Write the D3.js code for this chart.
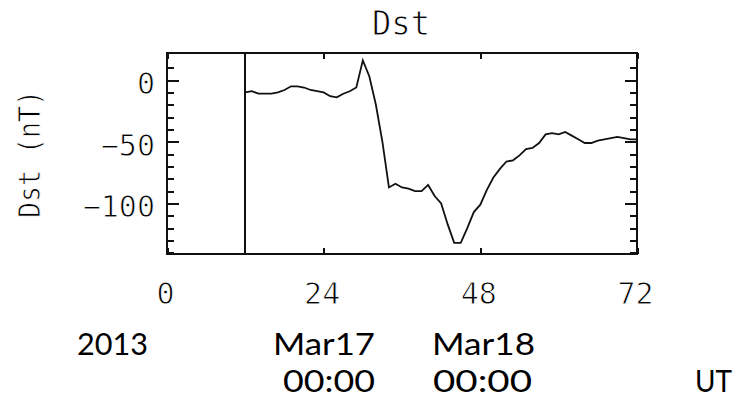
<!DOCTYPE html>
<html>
<head>
<meta charset="utf-8">
<script src="https://cdn.jsdelivr.net/npm/d3@7/dist/d3.min.js"></script>
<style>
  html, body { margin: 0; padding: 0; background: #fff; }
  svg { display: block; }
  /* thin stroke-font look: white outline trims the glyph edges */
  .mono { font-family: "DejaVu Sans Mono", monospace; fill: #000; stroke: #fff; stroke-width: 0.9px; paint-order: normal; }
  .cap { font-family: Lato, "Open Sans", sans-serif; fill: #000; }
</style>
</head>
<body>
<svg id="chart" width="740" height="405"></svg>
<script>
// Hourly Dst index (nT), starting at hour 12 of the plot window
const startHour = 12;
const dstValues = [
  -10, -9, -11, -11, -11, -10, -8, -5, -5, -6,
  -8, -9, -10, -13, -14, -11, -9, -6, 16, 3,
  -20, -50, -87, -84, -87, -88, -90, -90, -85, -94,
  -100, -117, -132, -132, -120, -107, -101, -89, -79, -72,
  -66, -65, -61, -56, -55, -51, -44, -43, -44, -42,
  -45, -48, -51, -51, -49, -48, -47, -46, -47, -48,
  -48
];
const xTicks = [0, 24, 48, 72];
const yMajorTicks = [0, -50, -100];
const yMinorTicks = [10, -10, -20, -30, -40, -60, -70, -80, -90, -110, -120, -130, -140];
const dateLabels = [
  { text: "2013", row: 0, x0: 77, x1: 148 },
  { text: "Mar17", row: 0, x0: 273, x1: 375 },
  { text: "Mar18", row: 0, x0: 432, x1: 535 },
  { text: "00:00", row: 1, x0: 283, x1: 375 },
  { text: "00:00", row: 1, x0: 433, x1: 532 },
  { text: "UT", row: 1, x0: 695, x1: 732 }
];

const svg = d3.select("#chart");
const box = { left: 167, right: 637, top: 53, bottom: 254 };

const x = d3.scaleLinear().domain([0, 72]).range([box.left, box.right]);
const y = d3.scaleLinear().domain([-141, 22]).range([box.bottom, box.top]);

const fmt = v => (v < 0 ? "\u2212" + Math.abs(v) : String(v));

// Title
svg.append("text").attr("class", "mono")
  .attr("x", 401).attr("y", 35)
  .attr("text-anchor", "middle")
  .attr("font-size", 34)
  .attr("textLength", 58).attr("lengthAdjust", "spacingAndGlyphs")
  .text("Dst");

// Y axis title
svg.append("text").attr("class", "mono")
  .attr("transform", "translate(40,154) rotate(-90)")
  .attr("text-anchor", "middle")
  .attr("font-size", 30)
  .attr("textLength", 128).attr("lengthAdjust", "spacingAndGlyphs")
  .text("Dst (nT)");

// Left axis: major ticks with labels, minor ticks without
const gLeft = svg.append("g").attr("transform", `translate(${box.left},0)`);
gLeft.call(d3.axisLeft(y).tickValues(yMajorTicks).tickSizeInner(-12).tickSizeOuter(0).tickPadding(12).tickFormat(fmt));
gLeft.append("g").call(d3.axisLeft(y).tickValues(yMinorTicks).tickSizeInner(-7).tickSizeOuter(0).tickFormat(""));

// Right axis (inward ticks only)
const gRight = svg.append("g").attr("transform", `translate(${box.right},0)`);
gRight.call(d3.axisRight(y).tickValues(yMajorTicks).tickSizeInner(-12).tickSizeOuter(0).tickFormat(""));
gRight.append("g").call(d3.axisRight(y).tickValues(yMinorTicks).tickSizeInner(-7).tickSizeOuter(0).tickFormat(""));

// Bottom axis with hour labels
const gBottom = svg.append("g").attr("transform", `translate(0,${box.bottom})`);
gBottom.call(d3.axisBottom(x).tickValues(xTicks).tickSizeInner(-6).tickSizeOuter(0).tickPadding(29).tickFormat(d3.format("d")));

// Top axis (inward ticks only)
const gTop = svg.append("g").attr("transform", `translate(0,${box.top})`);
gTop.call(d3.axisTop(x).tickValues(xTicks).tickSizeInner(-6).tickSizeOuter(0).tickFormat(""));

svg.selectAll(".domain").remove();
svg.selectAll(".tick line").attr("stroke", "#111").attr("stroke-width", 2).attr("shape-rendering", "crispEdges");
svg.selectAll(".tick text")
  .attr("class", "mono")
  .attr("font-size", 30)
  .attr("fill", null);
gLeft.selectAll(".tick text").attr("dy", "0.45em");
gBottom.selectAll(".tick text").attr("dy", "0.71em").attr("dx", -2);

// Plot frame
svg.append("rect")
  .attr("x", box.left).attr("y", box.top)
  .attr("width", box.right - box.left).attr("height", box.bottom - box.top)
  .attr("fill", "none").attr("stroke", "#111").attr("stroke-width", 2)
  .attr("shape-rendering", "crispEdges");

// Marker at the start of the data
svg.append("line")
  .attr("x1", x(startHour)).attr("x2", x(startHour))
  .attr("y1", y(22)).attr("y2", y(-141))
  .attr("stroke", "#111").attr("stroke-width", 2)
  .attr("shape-rendering", "crispEdges");

// Dst trace
const line = d3.line()
  .x((d, i) => x(startHour + i))
  .y(d => y(d));
svg.append("path")
  .datum(dstValues)
  .attr("d", line)
  .attr("fill", "none")
  .attr("stroke", "#111")
  .attr("stroke-width", 1.8)
  .attr("stroke-linejoin", "miter");

// Date / time annotations
const rowBaselines = [355, 392];
svg.selectAll(".date-label")
  .data(dateLabels)
  .join("text")
  .attr("class", "cap date-label")
  .attr("x", d => d.x0)
  .attr("y", d => rowBaselines[d.row])
  .attr("font-size", 31)
  .attr("textLength", d => d.x1 - d.x0)
  .attr("lengthAdjust", "spacingAndGlyphs")
  .text(d => d.text);
</script>
</body>
</html>
